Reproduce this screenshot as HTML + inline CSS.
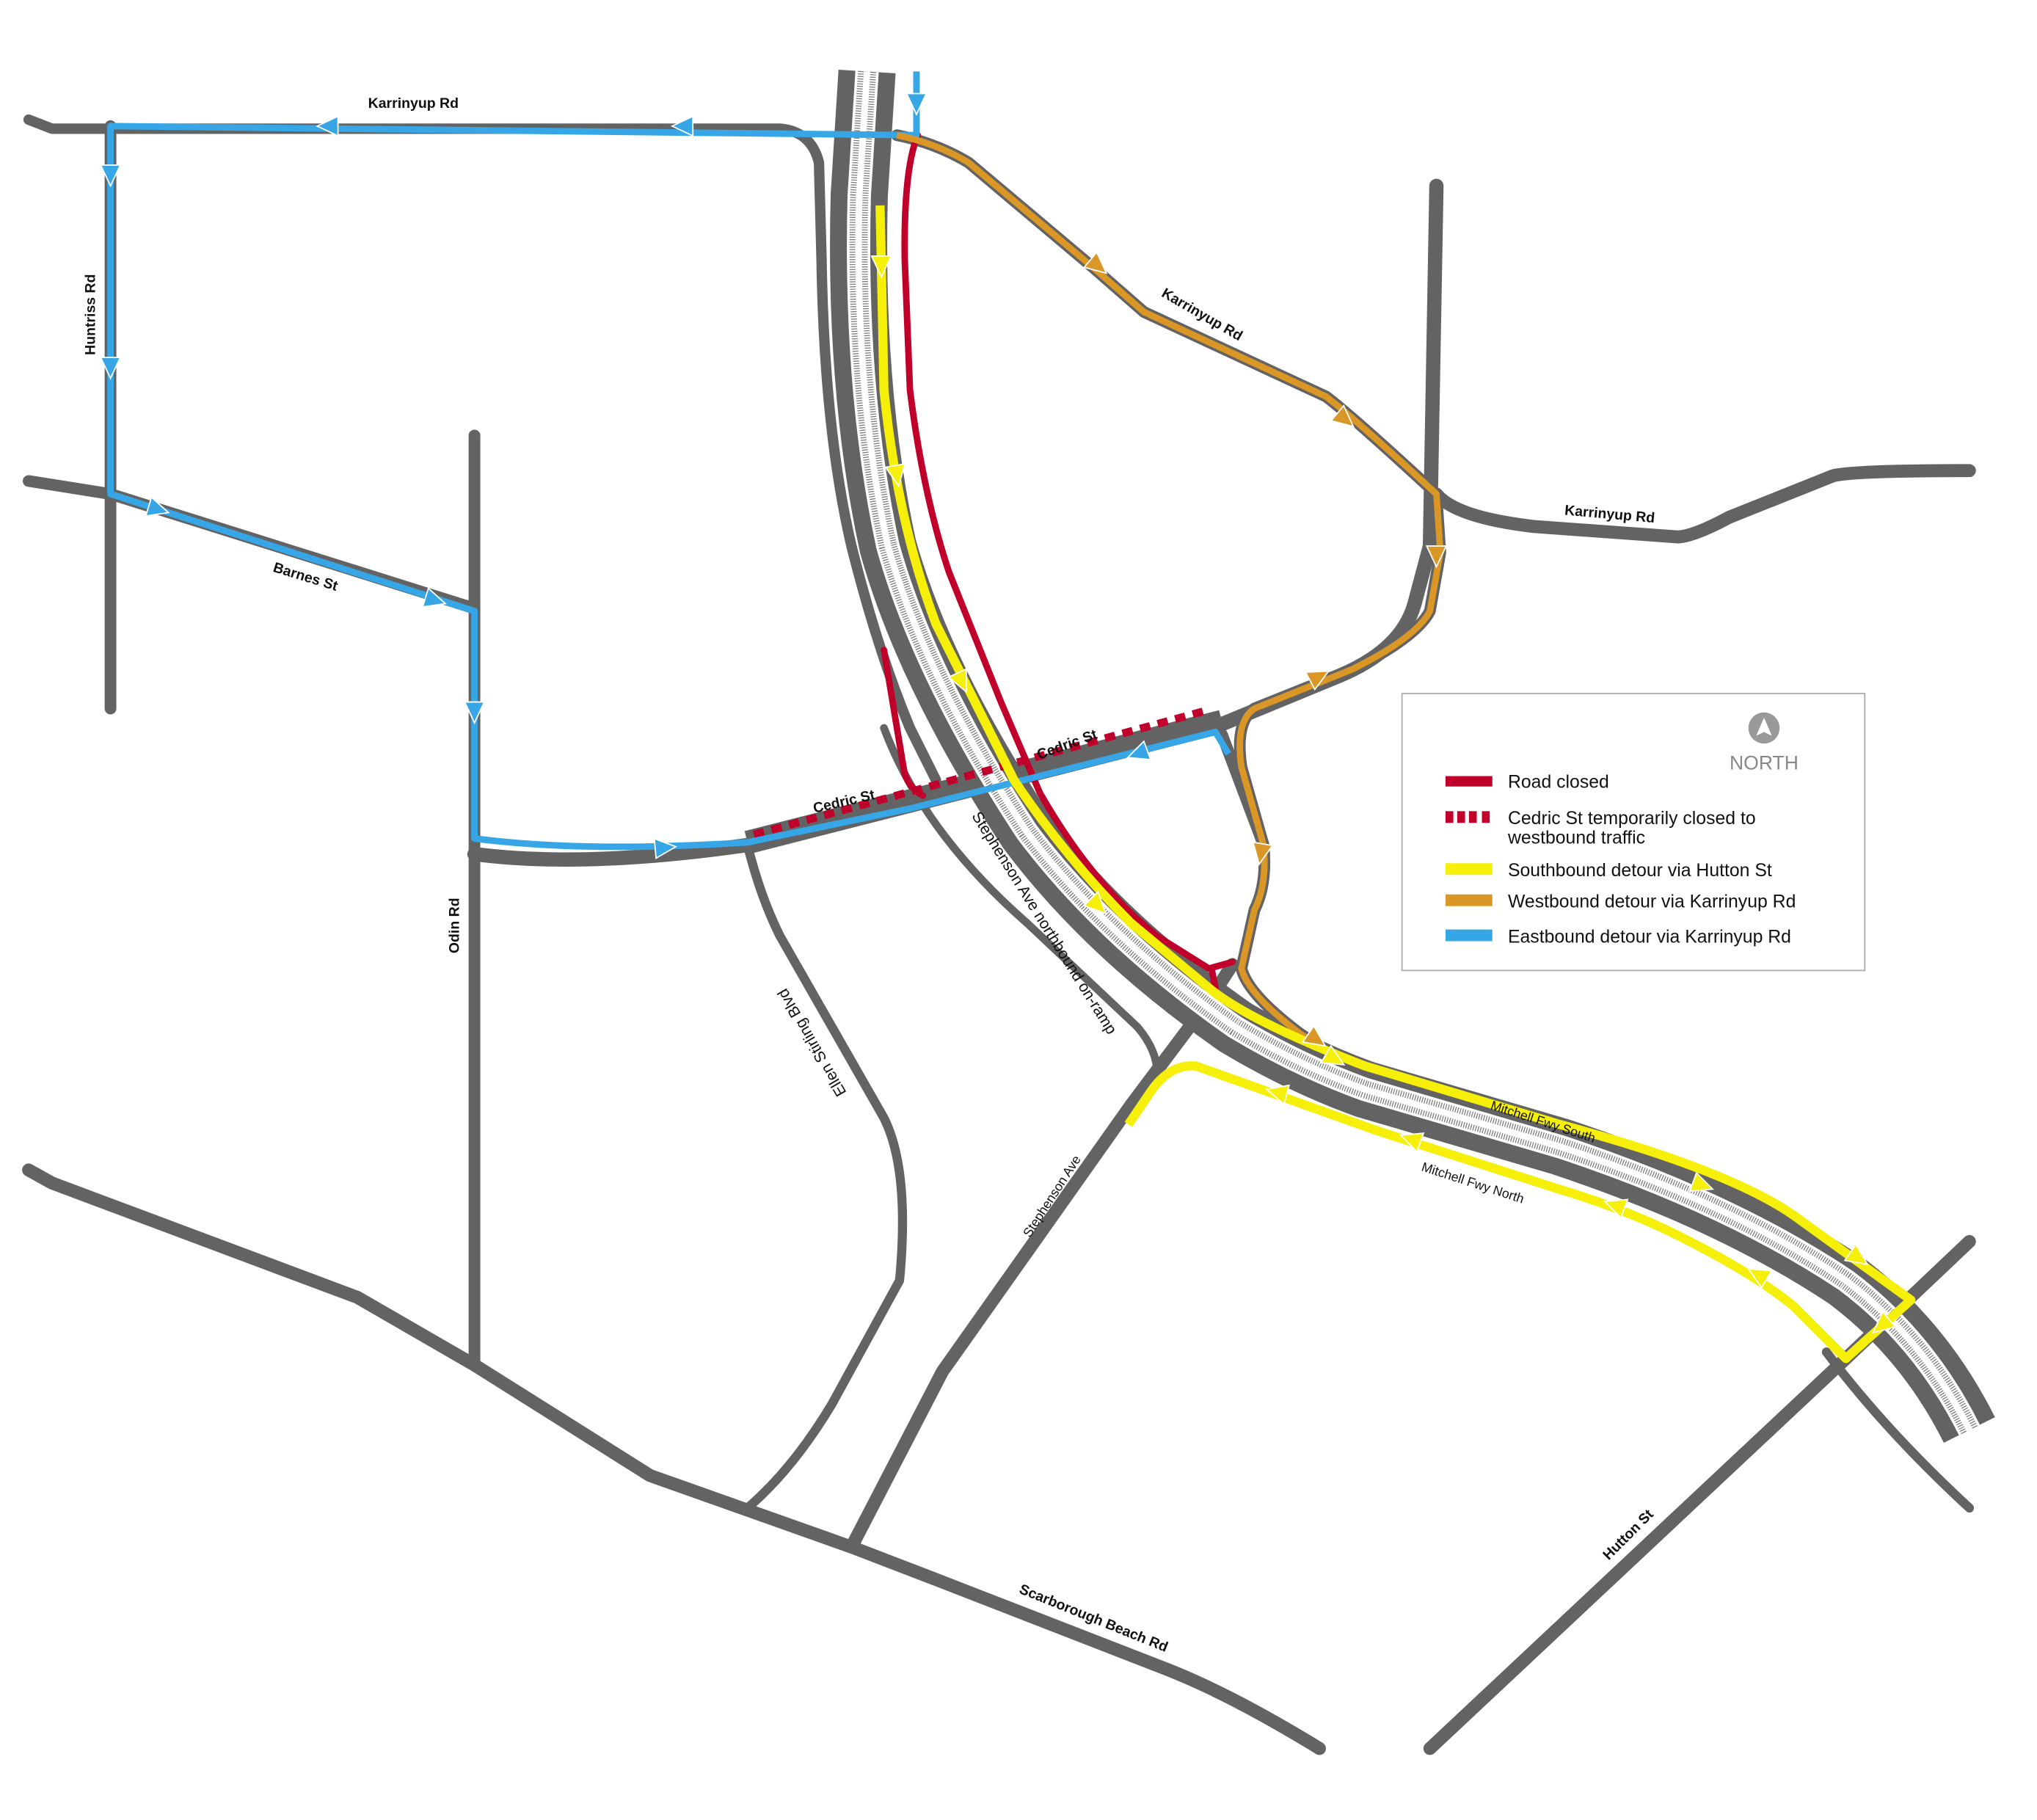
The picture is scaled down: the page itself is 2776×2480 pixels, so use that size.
<!DOCTYPE html>
<html><head><meta charset="utf-8"><style>html,body{margin:0;padding:0;background:#fff}svg{display:block}text{font-family:"Liberation Sans",sans-serif}</style></head>
<body>
<svg width="2776" height="2480" viewBox="0 0 1567 1400" preserveAspectRatio="none" xmlns="http://www.w3.org/2000/svg" xmlns:xlink="http://www.w3.org/1999/xlink">
<defs>
<path id="tri" d="M-8,-7.5 L8,0 L-8,7.5Z"/>
<path id="fw" d="M667,55 L661,150 Q657,300 683,420 Q711,520 790,640 Q850,720 950,790 Q1000,820 1050,838 L1200,882 Q1330,925 1420,985 Q1480,1030 1515,1100"/>
</defs>
<g fill="none" stroke="#636363" stroke-width="9" stroke-linecap="round" stroke-linejoin="round">
<path d="M22,92 L40,99 L600,99 Q624,101 630,125 L632,200 Q634,330 655,420 Q675,500 700,560 L720,600" stroke-width="8"/>
<path d="M85,97 L85,545"/>
<path d="M22,370 L85,380 L365,468"/>
<path d="M365,335 L365,1050"/>
<path d="M365,657 Q450,668 575,650 L940,557 L1030,520 Q1078,500 1088,465 L1100,420 L1105,143" stroke-width="11"/>
<path d="M575,648 L940,555" stroke-width="18" stroke-linecap="butt"/>
<path d="M1105,380 Q1120,398 1180,405 L1290,413 Q1302,413 1330,398 L1410,366 Q1425,362 1515,362" stroke-width="10"/>
<path d="M690,104 Q720,110 745,125 L840,205 L880,240 L1020,305 Q1040,320 1105,380 L1108,425 L1100,470 Q1090,490 1040,515 L965,545 Q950,555 955,590 L972,650 Q975,680 965,700 L955,745 Q960,765 1000,795 L1015,805"/>
<path d="M940,565 L972,650"/>
<path d="M655,1190 L725,1055 L870,850 L930,770 L948,742" stroke-width="10"/>
<path d="M575,650 Q585,690 600,720 L680,860 Q700,900 692,985 L640,1080 Q610,1130 575,1160" stroke-width="7"/>
<path d="M680,560 Q710,640 790,710 L875,790 Q892,810 890,830" stroke-width="6"/>
<path d="M22,900 L40,910 L275,998 L365,1050 L500,1135 L655,1190 L720,1215 L900,1285 Q950,1305 1015,1345" stroke-width="10"/>
<path d="M1100,1345 L1420,1045 L1515,955" stroke-width="10"/>
<path d="M1405,1040 Q1450,1100 1515,1160" stroke-width="7"/>
</g>
<g fill="none" stroke-linecap="butt" stroke-linejoin="round">
<use xlink:href="#fw" href="#fw" stroke="#636363" stroke-width="44"/>
<use xlink:href="#fw" href="#fw" stroke="#fff" stroke-width="18"/>
<use xlink:href="#fw" href="#fw" stroke="#777" stroke-width="14" stroke-dasharray="0.7,1.2"/>
<use xlink:href="#fw" href="#fw" stroke="#fff" stroke-width="5"/>
</g>
<g fill="none" stroke="#c0002a" stroke-width="5" stroke-linecap="round" stroke-linejoin="round">
<path d="M706,104 Q695,130 696,200 L700,300 Q710,380 730,440 L770,540 L800,610 Q840,680 890,720 L930,745 L948,740"/>
<path d="M680,500 L695,590 Q697,605 710,612"/>
<path d="M932,745 L935,760"/>
<path d="M580,642 L930,546" stroke-width="6" stroke-dasharray="8,6" stroke-linecap="butt"/>
</g>
<path d="M705,55 L705,104 L85,97 L85,380 L365,470 L365,645 Q450,656 575,648 L700,622 L935,563 L945,580" fill="none" stroke="#36a6e6" stroke-width="5" stroke-linejoin="round"/>
<path d="M690,104 Q720,110 745,125 L840,205 L880,240 L1020,305 Q1040,320 1105,380 L1108,425 L1100,470 Q1090,490 1040,515 L965,545 Q950,555 955,590 L972,650 Q975,680 965,700 L955,745 Q960,765 1000,795 L1015,805" fill="none" stroke="#db9726" stroke-width="5" stroke-linejoin="round"/>
<path d="M677,158 L680,300 Q690,400 720,480 L780,600 Q820,660 870,710 L930,760 Q960,785 1050,820 L1200,865 Q1330,900 1380,935 L1470,1000 L1420,1045 L1380,1005 Q1350,980 1290,950 Q1250,930 1200,915 L1060,870 L920,820 Q900,818 885,840 L868,865" fill="none" stroke="#f5ef0a" stroke-width="7" stroke-linejoin="round"/>
<g fill="#36a6e6" stroke="#fff" stroke-width="1">
<use xlink:href="#tri" href="#tri" transform="translate(705,80) rotate(90)"/>
<use xlink:href="#tri" href="#tri" transform="translate(252,97) rotate(180)"/>
<use xlink:href="#tri" href="#tri" transform="translate(525,97) rotate(180)"/>
<use xlink:href="#tri" href="#tri" transform="translate(85,135) rotate(90)"/>
<use xlink:href="#tri" href="#tri" transform="translate(85,283) rotate(90)"/>
<use xlink:href="#tri" href="#tri" transform="translate(122,392) rotate(17)"/>
<use xlink:href="#tri" href="#tri" transform="translate(335,462) rotate(17)"/>
<use xlink:href="#tri" href="#tri" transform="translate(365,548) rotate(90)"/>
<use xlink:href="#tri" href="#tri" transform="translate(512,652) rotate(-5)"/>
<use xlink:href="#tri" href="#tri" transform="translate(875,580) rotate(160)"/>
</g>
<g fill="#db9726" stroke="#fff" stroke-width="1">
<use xlink:href="#tri" href="#tri" transform="translate(845,205) rotate(40)"/>
<use xlink:href="#tri" href="#tri" transform="translate(1035,323) rotate(40)"/>
<use xlink:href="#tri" href="#tri" transform="translate(1105,428) rotate(90)"/>
<use xlink:href="#tri" href="#tri" transform="translate(1015,520) rotate(-28)"/>
<use xlink:href="#tri" href="#tri" transform="translate(970,657) rotate(100)"/>
<use xlink:href="#tri" href="#tri" transform="translate(1013,800) rotate(35)"/>
</g>
<g fill="#f5ef0a" stroke="#fff" stroke-width="1">
<use xlink:href="#tri" href="#tri" transform="translate(678,205) rotate(90)"/>
<use xlink:href="#tri" href="#tri" transform="translate(690,366) rotate(80)"/>
<use xlink:href="#tri" href="#tri" transform="translate(740,525) rotate(65)"/>
<use xlink:href="#tri" href="#tri" transform="translate(845,697) rotate(45)"/>
<use xlink:href="#tri" href="#tri" transform="translate(1027,815) rotate(30)"/>
<use xlink:href="#tri" href="#tri" transform="translate(1310,912) rotate(20)"/>
<use xlink:href="#tri" href="#tri" transform="translate(1430,968) rotate(35)"/>
<use xlink:href="#tri" href="#tri" transform="translate(1447,1020) rotate(140)"/>
<use xlink:href="#tri" href="#tri" transform="translate(1352,980) rotate(210)"/>
<use xlink:href="#tri" href="#tri" transform="translate(1242,927) rotate(200)"/>
<use xlink:href="#tri" href="#tri" transform="translate(1085,876) rotate(200)"/>
<use xlink:href="#tri" href="#tri" transform="translate(982,840) rotate(195)"/>
</g>
<g font-size="11" font-weight="bold" fill="#111">
<text x="318" y="83" text-anchor="middle">Karrinyup Rd</text>
<text transform="translate(73,242) rotate(-90)" text-anchor="middle">Huntriss Rd</text>
<text transform="translate(234,447) rotate(17)" text-anchor="middle">Barnes St</text>
<text transform="translate(353,712) rotate(-90)" text-anchor="middle">Odin Rd</text>
<text transform="translate(650,620) rotate(-13)" text-anchor="middle">Cedric St</text>
<text transform="translate(822,576) rotate(-20)" text-anchor="middle">Cedric St</text>
<text transform="translate(923,245) rotate(30)" text-anchor="middle">Karrinyup Rd</text>
<text transform="translate(1238,399) rotate(5)" text-anchor="middle">Karrinyup Rd</text>
<text transform="translate(628,800) rotate(-120)" text-anchor="middle" font-weight="normal" font-size="12">Ellen Stirling Blvd</text>
<text transform="translate(800,712) rotate(58)" text-anchor="middle" font-weight="normal" font-size="12">Stephenson Ave northbound on-ramp</text>
<text transform="translate(812,922) rotate(-57)" text-anchor="middle" font-weight="normal" font-size="10">Stephenson Ave</text>
<text transform="translate(1186,866) rotate(18)" text-anchor="middle" font-weight="normal" font-size="10">Mitchell Fwy South</text>
<text transform="translate(1132,913) rotate(18)" text-anchor="middle" font-weight="normal" font-size="10">Mitchell Fwy North</text>
<text transform="translate(1255,1183) rotate(-45)" text-anchor="middle">Hutton St</text>
<text transform="translate(840,1248) rotate(22)" text-anchor="middle">Scarborough Beach Rd</text>
</g>
<rect x="1078.5" y="533.5" width="356" height="213" fill="#fff" stroke="#aaa" stroke-width="1"/>
<circle cx="1357" cy="560" r="12" fill="#999"/>
<path d="M1357,552 L1363,566 L1357,563 L1351,566Z" fill="#fff"/>
<text x="1357" y="592" font-size="15" fill="#888" text-anchor="middle">NORTH</text>
<rect x="1112" y="597" width="36" height="8" fill="#c0002a"/>
<g fill="#c0002a"><rect x="1112" y="624" width="6" height="9"/><rect x="1121" y="624" width="6" height="9"/><rect x="1130" y="624" width="6" height="9"/><rect x="1140" y="624" width="6" height="9"/></g>
<rect x="1112" y="664" width="36" height="9" fill="#f5ef0a"/>
<rect x="1112" y="688" width="36" height="9" fill="#db9726"/>
<rect x="1112" y="715" width="36" height="9" fill="#36a6e6"/>
<g font-size="14" fill="#111">
<text x="1160" y="606">Road closed</text>
<text x="1160" y="634">Cedric St temporarily closed to</text>
<text x="1160" y="649">westbound traffic</text>
<text x="1160" y="674">Southbound detour via Hutton St</text>
<text x="1160" y="698">Westbound detour via Karrinyup Rd</text>
<text x="1160" y="725">Eastbound detour via Karrinyup Rd</text>
</g>
</svg>
</body></html>
